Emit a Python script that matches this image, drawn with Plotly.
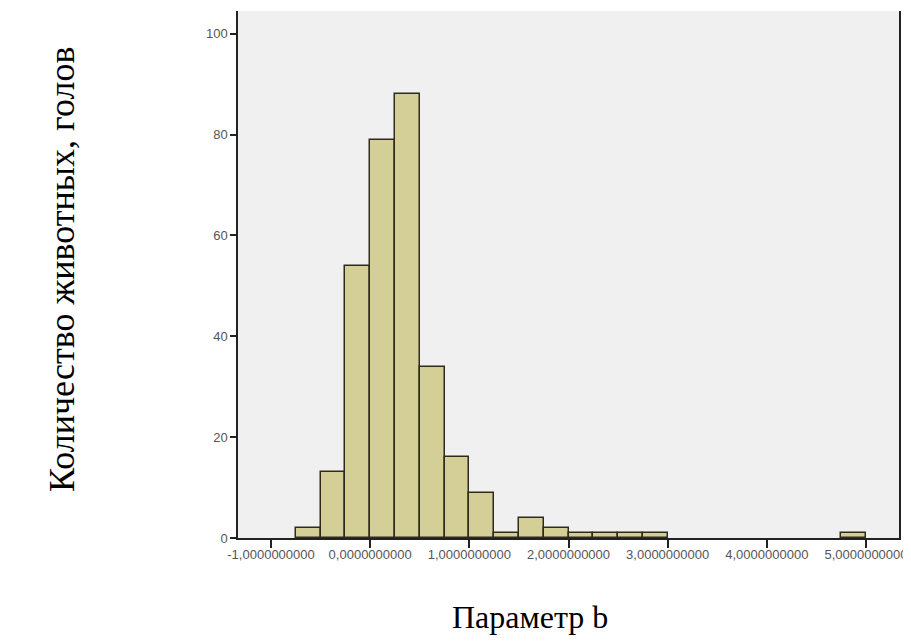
import plotly.graph_objects as go

# Histogram data (bin width 0.25, bins with non-zero counts)
bin_left = [-0.75, -0.5, -0.25, 0.0, 0.25, 0.5, 0.75, 1.0, 1.25, 1.5, 1.75,
            2.0, 2.25, 2.5, 2.75, 4.75]
counts = [2, 13, 54, 79, 88, 34, 16, 9, 1, 4, 2, 1, 1, 1, 1, 1]
bin_width = 0.25

x_tickvals = [-1, 0, 1, 2, 3, 4, 5]
x_ticktext = ["-1,0000000000", "0,0000000000", "1,0000000000", "2,0000000000",
              "3,0000000000", "4,0000000000", "5,0000000000"]
y_tickvals = [0, 20, 40, 60, 80, 100]

x_title = "Параметр b"
y_title = "Количество животных, голов"

centers = [b + bin_width / 2 for b in bin_left]

fig = go.Figure(go.Bar(
    x=centers, y=counts, width=bin_width,
    marker=dict(color="#d4cf97", line=dict(color="#2e2b1c", width=1.5)),
    showlegend=False,
))

# page body has an 8px margin, so the figure is sized/offset accordingly
OFF = 8
W, H = 911 - OFF, 641 - OFF
ml = 238 - OFF
mt = 11 - OFF
mr = W - (899 - OFF)
mb = H - (538 - OFF)

fig.update_layout(
    width=W, height=H,
    margin=dict(l=ml, r=mr, t=mt, b=mb),
    paper_bgcolor="white",
    plot_bgcolor="#f0f0f0",
    bargap=0,
    font=dict(family="Liberation Sans, Arial", size=13, color="#555555"),
)
fig.update_xaxes(
    range=[-1.333, 5.333], tickvals=x_tickvals, ticktext=x_ticktext,
    ticks="outside", ticklen=8, tickwidth=1.5, tickcolor="#222222",
    ticklabelstandoff=-4,
    showline=True, linecolor="#222222", linewidth=1.5,
    showgrid=False, zeroline=False,
    tickfont=dict(size=13, color="#555555"),
)
fig.update_yaxes(
    range=[0, 104.5], tickvals=y_tickvals,
    ticks="outside", ticklen=6, tickwidth=1.5, tickcolor="#222222",
    showline=True, linecolor="#222222", linewidth=1.5, mirror=True,
    showgrid=False, zeroline=False,
    tickfont=dict(size=13, color="#555555"),
)

plot_w = W - ml - mr
plot_h = H - mt - mb
plot_bottom = H - mb
fig.add_annotation(
    text=x_title, xref="paper", yref="paper",
    x=(530 - OFF - ml) / plot_w, y=-((617 - OFF) - plot_bottom) / plot_h,
    showarrow=False, xanchor="center", yanchor="middle",
    font=dict(family="Liberation Serif, Times New Roman", size=32, color="#000000"),
)
fig.add_annotation(
    text=y_title, xref="paper", yref="paper",
    x=-(ml - (62 - OFF)) / plot_w, y=(plot_bottom - (270 - OFF)) / plot_h,
    showarrow=False, textangle=-90, xanchor="center", yanchor="middle",
    font=dict(family="Liberation Serif, Times New Roman", size=36, color="#000000"),
)

fig.write_html("out.html")
